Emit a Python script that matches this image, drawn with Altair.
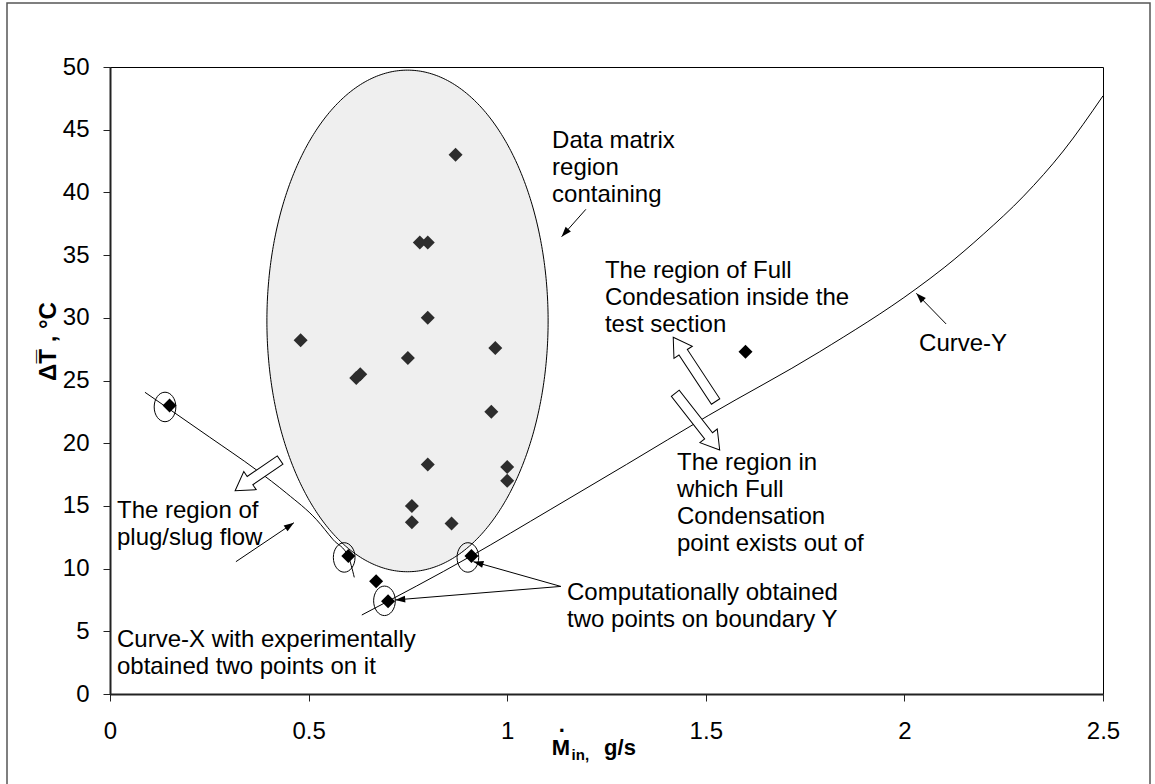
import altair as alt
import numpy as np
import pandas as pd

FONT = "Liberation Sans"

# Measured points: inlet mass flow rate (g/s) and mean temperature difference (deg C)
m_in = [0.15, 0.48, 0.60, 0.62, 0.63, 0.67, 0.70, 0.75, 0.76, 0.76, 0.78,
        0.80, 0.80, 0.80, 0.86, 0.87, 0.91, 0.96, 0.97, 1.00, 1.00, 1.60]
delta_t = [23.0, 28.2, 11.0, 25.2, 25.5, 9.0, 7.4, 26.8, 15.0, 13.7, 36.0,
           36.0, 30.0, 18.3, 13.6, 43.0, 11.0, 22.5, 27.6, 18.1, 17.0, 27.3]

# Curve-X (plug/slug flow boundary)
curve_x_m = [0.088, 0.15, 0.25, 0.369, 0.445, 0.520, 0.562, 0.600, 0.615]
curve_x_t = [24.06, 22.7, 20.5, 17.86, 16.0, 13.9, 12.3, 10.95, 9.3]

# Curve-Y (full condensation boundary)
curve_y_m = [0.634, 0.909, 1.108, 1.30, 1.506, 1.787, 2.029, 2.10, 2.20,
             2.30, 2.40, 2.50]
curve_y_t = [6.3, 11.0, 14.7, 18.3, 22.2, 27.3, 32.3, 34.0, 36.7,
             39.7, 43.3, 47.7]

# Data matrix region (ellipse centre and semi-axes in data units)
region_center = (0.749, 29.75)
region_radii = (0.354, 20.0)

# Rings around the boundary points
ring_m = [0.1385, 0.5896, 0.901, 0.691]
ring_t = [22.89, 10.89, 10.89, 7.43]

# Thin annotation arrows: tail -> tip, with head direction (deg, clockwise from up)
arrow_m1 = [1.198, 2.105, 0.317, 1.135, 1.135]
arrow_t1 = [38.65, 29.51, 10.55, 8.58, 8.58]
arrow_m2 = [1.137, 2.030, 0.463, 0.915, 0.718]
arrow_t2 = [36.47, 31.95, 13.66, 10.55, 7.50]
arrow_angle = [221.6, 315.7, 56.1, 285.7, 265.3]

# Hollow block arrows: tip position, direction and length (in 10 px units)
block_m = [0.315, 1.418, 1.535]
block_t = [16.21, 28.45, 19.46]
block_angle = [235.7, 326.6, 141.9]
block_len = [5.45, 7.7, 7.2]

# Annotation texts (left edge, first-line baseline)
note_text = [
    "Data matrix\nregion\ncontaining",
    "The region of Full\nCondesation inside the\ntest section",
    "Curve-Y",
    "The region in\nwhich Full\nCondensation\npoint exists out of",
    "Computationally obtained\ntwo points on boundary Y",
    "The region of\nplug/slug flow",
    "Curve-X with experimentally\nobtained two points on it",
]
note_m = [1.113, 1.246, 2.037, 1.4275, 1.1506, 0.0176, 0.0176]
note_t = [43.54, 33.17, 27.35, 17.86, 7.50, 14.04, 3.75]

x_ticks = [0, 0.5, 1, 1.5, 2, 2.5]
y_ticks = list(range(0, 51, 5))

# ---------------------------------------------------------------- data frames
points = pd.DataFrame({"m": m_in, "t": delta_t})

th = np.linspace(0, np.pi, 241)
cx, cy = region_center
rx, ry = region_radii
ellipse = pd.DataFrame({
    "m": cx + rx * np.cos(th),
    "t": cy + ry * np.sin(th),
    "t2": cy - ry * np.sin(th),
})

cx_df = pd.DataFrame({"m": curve_x_m, "t": curve_x_t})
cy_df = pd.DataFrame({"m": curve_y_m, "t": curve_y_t})
rings = pd.DataFrame({"m": ring_m, "t": ring_t})
arrows = pd.DataFrame({"m": arrow_m1, "t": arrow_t1, "m2": arrow_m2,
                       "t2": arrow_t2, "angle": arrow_angle})


def block_path(length):
    return (f"M0,0 L1.1,1.8 L0.5,1.8 L0.5,{length} L-0.5,{length} "
            f"L-0.5,1.8 L-1.1,1.8 Z")


blocks = pd.DataFrame({"m": block_m, "t": block_t, "angle": block_angle,
                       "path": [block_path(v) for v in block_len]})
notes = pd.DataFrame({"m": note_m, "t": note_t, "text": note_text})

x_scale = alt.Scale(domain=[0, 2.5], nice=False, zero=False)
y_scale = alt.Scale(domain=[0, 50], nice=False, zero=False)

X = alt.X("m:Q", scale=x_scale, axis=alt.Axis(
    values=x_ticks, format=".1~f", title=None, grid=False,
    labelFont=FONT, labelFontSize=24, labelColor="black", labelPadding=18,
    tickSize=7, tickColor="#222222", domainColor="#222222", domainWidth=2,
    labelFlush=False, labelOverlap=False))
Y = alt.Y("t:Q", scale=y_scale, axis=alt.Axis(
    values=y_ticks, title="\u0394T\u0305 , \u00b0C", grid=False,
    titleFont=FONT, titleFontSize=24, titleFontWeight="bold", titleColor="black",
    titleAngle=270, titleX=-62, titleY=274, titleAlign="center",
    titleBaseline="middle",
    labelFont=FONT, labelFontSize=24, labelColor="black", labelPadding=14,
    tickSize=7, tickColor="#222222", domainColor="#222222", domainWidth=2,
    labelFlush=False, labelOverlap=False))

xq = alt.X("m:Q", scale=x_scale)
yq = alt.Y("t:Q", scale=y_scale)

point_layer = alt.Chart(points).mark_point(
    shape="diamond", filled=True, size=196, color="black", opacity=1
).encode(x=X, y=Y)

region_layer = alt.Chart(ellipse).mark_area(
    orient="vertical", fill="#bcbcbc", fillOpacity=0.24,
    stroke="black", strokeWidth=1, strokeOpacity=1
).encode(x=xq, y=yq, y2="t2:Q")

curve_x_layer = alt.Chart(cx_df).mark_line(
    color="black", strokeWidth=1, interpolate="monotone"
).encode(x=xq, y=yq)

curve_y_layer = alt.Chart(cy_df).mark_line(
    color="black", strokeWidth=1, interpolate="monotone"
).encode(x=xq, y=yq)

ring_shape = ("M-0.735,0 A0.735,1 0 1,0 0.735,0 "
              "A0.735,1 0 1,0 -0.735,0 Z")
ring_layer = alt.Chart(rings).mark_point(
    shape=ring_shape, size=870, filled=False, stroke="black",
    strokeWidth=1, opacity=1
).encode(x=xq, y=yq)

arrow_line_layer = alt.Chart(arrows).mark_rule(
    color="black", strokeWidth=1
).encode(x=xq, y=yq, x2="m2:Q", y2="t2:Q")

arrow_head_layer = alt.Chart(arrows).mark_point(
    shape="M0,0 L0.35,1 L-0.35,1 Z", size=400, filled=True,
    color="black", opacity=1
).encode(x=alt.X("m2:Q", scale=x_scale), y=alt.Y("t2:Q", scale=y_scale),
         angle=alt.Angle("angle:Q", scale=None))

block_layer = alt.Chart(blocks).mark_point(
    size=400, filled=True, fill="white", stroke="black", strokeWidth=1,
    opacity=1
).encode(x=xq, y=yq, angle=alt.Angle("angle:Q", scale=None),
         shape=alt.Shape("path:N", scale=None))

note_layer = alt.Chart(notes).mark_text(
    align="left", baseline="alphabetic", font=FONT, fontSize=24,
    color="black", lineBreak="\n", lineHeight=27
).encode(x=xq, y=yq, text="text:N")

# x-axis title: M with a dot, subscript "in," and the unit
xtitle = pd.DataFrame({
    "m": [1.112, 1.162, 1.244, 1.130],
    "t": [-4.86, -5.30, -4.86, -3.03],
    "text": ["M", "in,", "g/s", "."],
    "size": [22, 15, 22, 22],
})
xtitle_layer = alt.Chart(xtitle).mark_text(
    font=FONT, fontWeight="bold", color="black", baseline="alphabetic",
    align="left"
).encode(x=xq, y=yq, text="text:N",
         size=alt.Size("size:Q", scale=None, legend=None))

frame_layer = alt.Chart(pd.DataFrame({"k": [0]})).mark_rect(
    filled=False, fill=None, stroke="#555555", strokeWidth=1.5
).encode(x=alt.value(-103), x2=alt.value(1040),
         y=alt.value(-64), y2=alt.value(722))

chart = alt.layer(
    point_layer, region_layer, curve_x_layer, curve_y_layer, ring_layer,
    arrow_line_layer, arrow_head_layer, block_layer, note_layer,
    xtitle_layer, frame_layer
).properties(
    width=993, height=627,
    padding={"left": 110, "top": 67, "right": 52, "bottom": 90},
    autosize="none", background="white"
).configure_view(stroke="black", strokeWidth=1)

chart.save("out.html", embed_options={"renderer": "svg", "actions": False})
